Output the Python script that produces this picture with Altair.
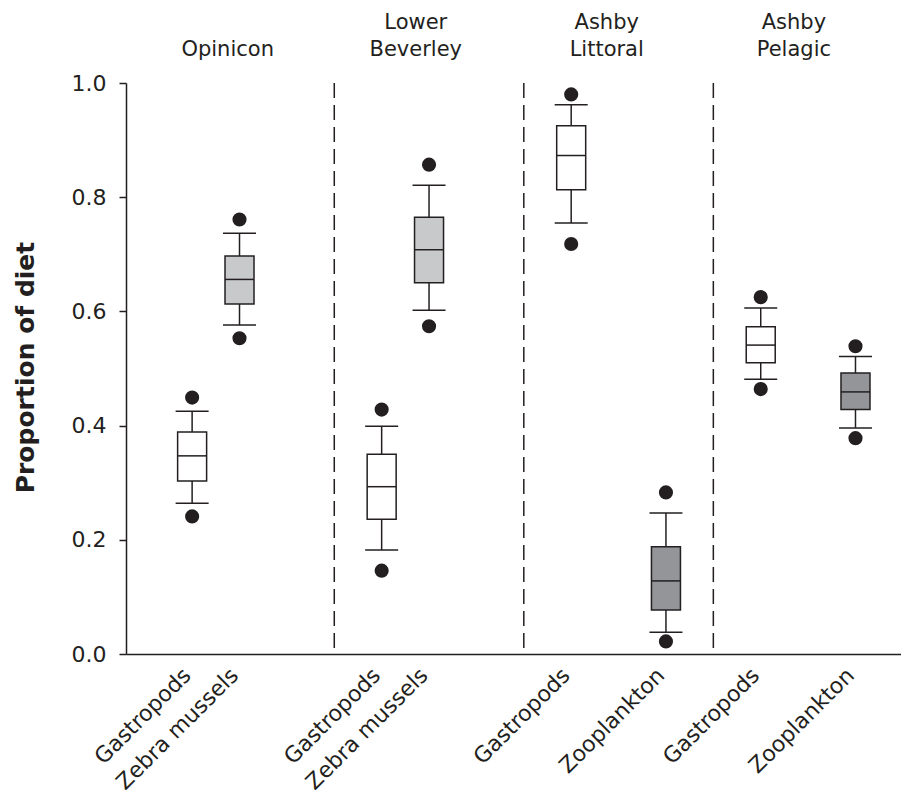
import altair as alt
import pandas as pd

# ---- data ----
sites = ["Opinicon", "Opinicon", "Lower Beverley", "Lower Beverley",
         "Ashby Littoral", "Ashby Littoral", "Ashby Pelagic", "Ashby Pelagic"]
prey = ["Gastropods", "Zebra mussels", "Gastropods", "Zebra mussels",
        "Gastropods", "Zooplankton", "Gastropods", "Zooplankton"]
slot = [0, 1, 4, 5, 8, 10, 12, 14]  # ordinal position of each box along the axis
whisker_low = [0.264, 0.576, 0.182, 0.602, 0.755, 0.038, 0.481, 0.396]
q1 = [0.303, 0.613, 0.236, 0.650, 0.813, 0.077, 0.510, 0.428]
median = [0.347, 0.656, 0.293, 0.708, 0.873, 0.128, 0.541, 0.459]
q3 = [0.389, 0.697, 0.350, 0.765, 0.925, 0.188, 0.573, 0.492]
whisker_high = [0.425, 0.737, 0.399, 0.821, 0.962, 0.247, 0.606, 0.521]
outlier_low = [0.241, 0.553, 0.146, 0.574, 0.718, 0.022, 0.464, 0.378]
outlier_high = [0.449, 0.761, 0.428, 0.857, 0.980, 0.283, 0.625, 0.539]

title_line1 = ["", "Lower", "Ashby", "Ashby"]
title_line2 = ["Opinicon", "Beverley", "Littoral", "Pelagic"]
title_slot = [0.75, 4.72, 8.75, 12.7]
separator_slot = [3, 7, 11]
y_ticks = [0.0, 0.2, 0.4, 0.6, 0.8, 1.0]

prey_domain = ["Gastropods", "Zebra mussels", "Zooplankton"]
prey_fill = ["#ffffff", "#c8c9cb", "#939598"]

INK = "#231f20"
FONT = "DejaVu Sans"

df = pd.DataFrame({
    "site": sites, "prey": prey, "slot": slot,
    "whisker_low": whisker_low, "q1": q1, "median": median, "q3": q3,
    "whisker_high": whisker_high,
    "outlier_low": outlier_low, "outlier_high": outlier_high,
})
titles_df = pd.DataFrame({"line1": title_line1, "line2": title_line2, "slot": title_slot})
sep_df = pd.DataFrame({"slot": separator_slot})

x_scale = alt.Scale(domain=[-1.29, 14.855], nice=False, zero=False)
x_axis = alt.Axis(labels=False, ticks=False, title=None, grid=False,
                  domainColor=INK, domainWidth=1.5)
y_scale = alt.Scale(domain=[0, 1], nice=False, zero=True)
y_axis = alt.Axis(values=y_ticks, format=".1f", title="Proportion of diet",
                  grid=False, domainColor=INK, domainWidth=1.5,
                  tickColor=INK, tickWidth=1.5, tickSize=7,
                  labelPadding=13, labelFontSize=22, labelFont=FONT,
                  labelColor=INK,
                  titleFont=FONT, titleFontSize=25, titleFontWeight="bold",
                  titleColor=INK, titleAngle=270, titleX=-101, titleY=284,
                  titleAlign="center", titleBaseline="middle")


def X():
    return alt.X("slot:Q", scale=x_scale, axis=x_axis)


def Y(field):
    return alt.Y(field, scale=y_scale, axis=y_axis)


base = alt.Chart(df)

whiskers = base.mark_rule(color=INK, strokeWidth=1.5).encode(
    x=X(), y=Y("whisker_low:Q"), y2="whisker_high:Q",
)

caps = base.transform_fold(["whisker_low", "whisker_high"], as_=["kind", "val"]).mark_tick(
    orient="horizontal", size=33, thickness=1.5, color=INK, opacity=1
).encode(x=X(), y=Y("val:Q"))

boxes = base.mark_bar(size=29, stroke=INK, strokeWidth=1.5, opacity=1).encode(
    x=X(), y=Y("q1:Q"), y2="q3:Q",
    fill=alt.Fill("prey:N", scale=alt.Scale(domain=prey_domain, range=prey_fill), legend=None),
)

medians = base.mark_tick(orient="horizontal", size=29, thickness=1.5, color=INK, opacity=1).encode(
    x=X(), y=Y("median:Q")
)

points = base.transform_fold(["outlier_low", "outlier_high"], as_=["kind", "val"]).mark_circle(
    size=200, color=INK, opacity=1
).encode(x=X(), y=Y("val:Q"))

separators = alt.Chart(sep_df).mark_rule(color=INK, strokeWidth=1.5, strokeDash=[15, 7]).encode(
    x=X(), y=alt.value(0), y2=alt.value(571)
)

title_top = alt.Chart(titles_df).mark_text(
    font=FONT, fontSize=21, color=INK, align="center", baseline="alphabetic"
).encode(x=X(), y=alt.value(-54), text="line1:N")

title_bottom = alt.Chart(titles_df).mark_text(
    font=FONT, fontSize=21, color=INK, align="center", baseline="alphabetic"
).encode(x=X(), y=alt.value(-27), text="line2:N")

prey_text = base.mark_text(
    font=FONT, fontSize=22, color=INK, align="right", baseline="middle", angle=315,
    dx=-2, dy=-5
).encode(x=X(), y=alt.value(591), text="prey:N")

chart = alt.layer(
    separators, whiskers, caps, boxes, medians, points, title_top, title_bottom, prey_text
).properties(
    width=775, height=571,
    autosize=alt.AutoSizeParams(type="none"),
    padding={"left": 118, "top": 75, "right": 0, "bottom": 140},
    background="white",
).configure_view(stroke=None)

chart.save("out.html", embed_options={"renderer": "svg", "actions": False})
